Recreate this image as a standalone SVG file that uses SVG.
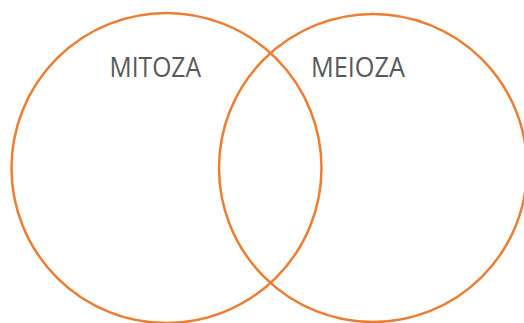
<svg xmlns="http://www.w3.org/2000/svg" width="524" height="323" viewBox="0 0 524 323">
<style>
.c{fill:none;stroke:#ED7D31;stroke-width:2.5}
.t{font-family:"Open Sans","Liberation Sans",sans-serif;font-size:27px;fill:#595959}
</style>
<rect width="524" height="323" fill="#fff"/>
<g id="mitoza">
<circle class="c" cx="166.5" cy="168" r="155"/>
<text class="t" x="109.5" y="77" textLength="91.5" lengthAdjust="spacingAndGlyphs">MITOZA</text>
</g>
<g id="mejoza">
<circle class="c" cx="373" cy="168" r="154"/>
<text class="t" x="311" y="77" textLength="94" lengthAdjust="spacingAndGlyphs">MEIOZA</text>
</g>
<g id="connectors"/>
</svg>
